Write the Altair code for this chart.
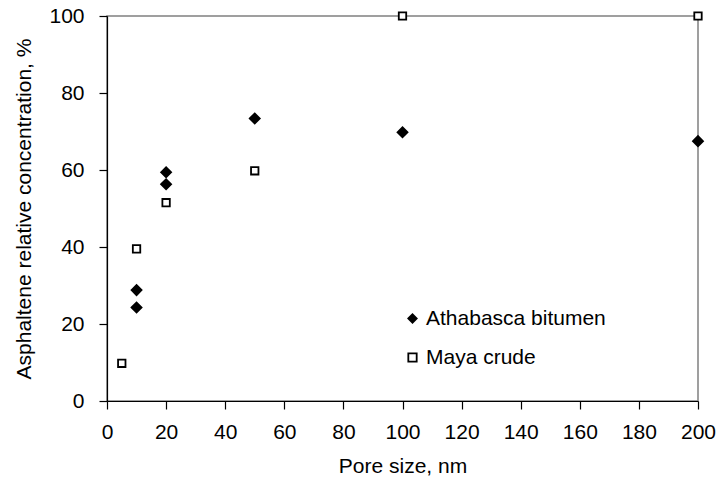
import altair as alt
import pandas as pd

ath_x = [10, 10, 20, 20, 50, 100, 200]
ath_y = [24.3, 28.8, 56.3, 59.4, 73.4, 69.8, 67.5]
maya_x = [5, 10, 20, 50, 100, 200]
maya_y = [9.8, 39.5, 51.5, 59.8, 100, 100]
series = ["Athabasca bitumen", "Maya crude"]

rows = [{"x": x, "y": y, "s": series[0]} for x, y in zip(ath_x, ath_y)]
rows += [{"x": x, "y": y, "s": series[1]} for x, y in zip(maya_x, maya_y)]
df = pd.DataFrame(rows)

FONT = "Liberation Sans"

leg = alt.Legend(title=None, orient="none", legendX=295, legendY=292,
                 symbolSize=70, symbolStrokeColor="black", symbolStrokeWidth=1.8,
                 labelFontSize=21, labelFont=FONT, labelColor="black", labelLimit=0,
                 rowPadding=17, labelOffset=3, padding=0)

chart = alt.Chart(df).mark_point(filled=False, strokeWidth=1.8, opacity=1).encode(
    x=alt.X("x:Q", title="Pore size, nm",
            scale=alt.Scale(domain=[0, 200], nice=False, zero=True),
            axis=alt.Axis(values=list(range(0, 201, 20)), grid=False, tickSize=8,
                          labelPadding=12, titlePadding=13, labelFlush=False)),
    y=alt.Y("y:Q", title="Asphaltene relative concentration, %",
            scale=alt.Scale(domain=[0, 100], nice=False),
            axis=alt.Axis(values=list(range(0, 101, 20)), grid=False, tickSize=8,
                          labelPadding=15, titlePadding=14, labelFlush=False)),
    fill=alt.Fill("s:N", scale=alt.Scale(domain=series, range=["black", "white"]), legend=leg),
    stroke=alt.Stroke("s:N", scale=alt.Scale(domain=series, range=["black", "black"]), legend=leg),
    shape=alt.Shape("s:N", scale=alt.Scale(domain=series, range=["diamond", "square"]), legend=leg),
    size=alt.condition(alt.datum.s == series[0], alt.value(100), alt.value(55)),
).properties(
    width=591, height=385,
    background="white",
    autosize=alt.AutoSizeParams(type="none"),
    padding={"left": 107, "top": 16, "right": 19, "bottom": 85},
).configure_view(
    stroke="#808080", strokeWidth=1.5
).configure_axis(
    domainColor="black", tickColor="black", domainWidth=1.2, tickWidth=1.2,
    labelFont=FONT, labelFontSize=21, labelColor="black",
    titleFont=FONT, titleFontSize=21, titleColor="black", titleFontWeight="normal",
)

chart.save("out.html", embed_options={"renderer": "svg", "actions": False})
